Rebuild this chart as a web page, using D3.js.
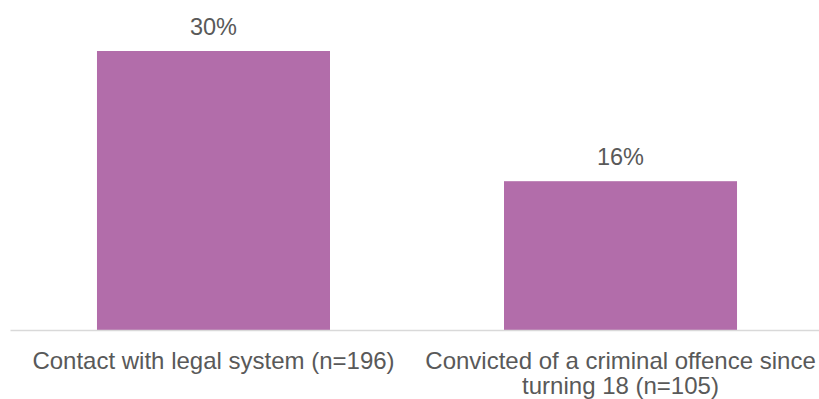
<!DOCTYPE html>
<html>
<head>
<meta charset="utf-8">
<script src="https://cdn.jsdelivr.net/npm/d3@7"></script>
<style>
  body { margin: 0; background: #fff; }
  svg { display: block; }
</style>
</head>
<body>
<svg width="819" height="399"></svg>
<script>

// data
var categories = ["Contact with legal system (n=196)", "Convicted of a criminal offence since turning 18 (n=105)"];
var values = [30, 16];
var valueLabels = ["30%", "16%"];

var svg = d3.select("svg"),
    left = 10,
    right = 824,
    baseline = 330;

var xScale = d3.scaleBand().domain(categories).range([left, right]).paddingInner(0.4275).paddingOuter(0.2137);
var yScale = d3.scaleLinear().domain([0, 30]).range([baseline, 51]);

var fontFamily = "'Liberation Sans', Arial, sans-serif";

// bars
svg.append("g")
    .selectAll("rect")
    .data(values)
    .enter()
    .append("rect")
    .attr("x", function (d, i) { return xScale(categories[i]); })
    .attr("y", function (d) { return yScale(d); })
    .attr("width", xScale.bandwidth())
    .attr("height", function (d) { return baseline - yScale(d); })
    .style("fill", "#B26DAA");

// value labels
svg.append("g")
    .selectAll("text")
    .data(values)
    .enter()
    .append("text")
    .attr("x", function (d, i) { return xScale(categories[i]) + xScale.bandwidth() / 2; })
    .attr("y", function (d) { return yScale(d) - 16; })
    .attr("text-anchor", "middle")
    .style("font-family", fontFamily)
    .style("font-size", "23.5px")
    .style("fill", "#595959")
    .text(function (d, i) { return valueLabels[i]; });

// x axis
var xAxis = svg.append("g")
    .attr("transform", "translate(0," + baseline + ")")
    .call(d3.axisBottom(xScale).tickSize(0).tickSizeOuter(0));

xAxis.select(".domain").style("stroke", "#D9D9D9").style("stroke-width", 1.5);
xAxis.selectAll(".tick text")
    .style("font-family", fontFamily)
    .style("font-size", "24px")
    .style("fill", "#595959")
    .attr("y", 0)
    .attr("dy", 0)
    .call(wrap, 405);

// wrap long tick labels onto several lines
function wrap(texts, width) {
    texts.each(function () {
        var text = d3.select(this),
            words = text.text().split(/\s+/),
            line = [],
            lineNo = 0,
            tspan = text.text(null).append("tspan").attr("x", 0).attr("y", 39);
        words.forEach(function (w) {
            line.push(w);
            tspan.text(line.join(" "));
            if (tspan.node().getComputedTextLength() > width && line.length > 1) {
                line.pop();
                tspan.text(line.join(" "));
                line = [w];
                lineNo++;
                tspan = text.append("tspan").attr("x", 0).attr("y", 39 + lineNo * 25).text(w);
            }
        });
    });
}

</script>
</body>
</html>
